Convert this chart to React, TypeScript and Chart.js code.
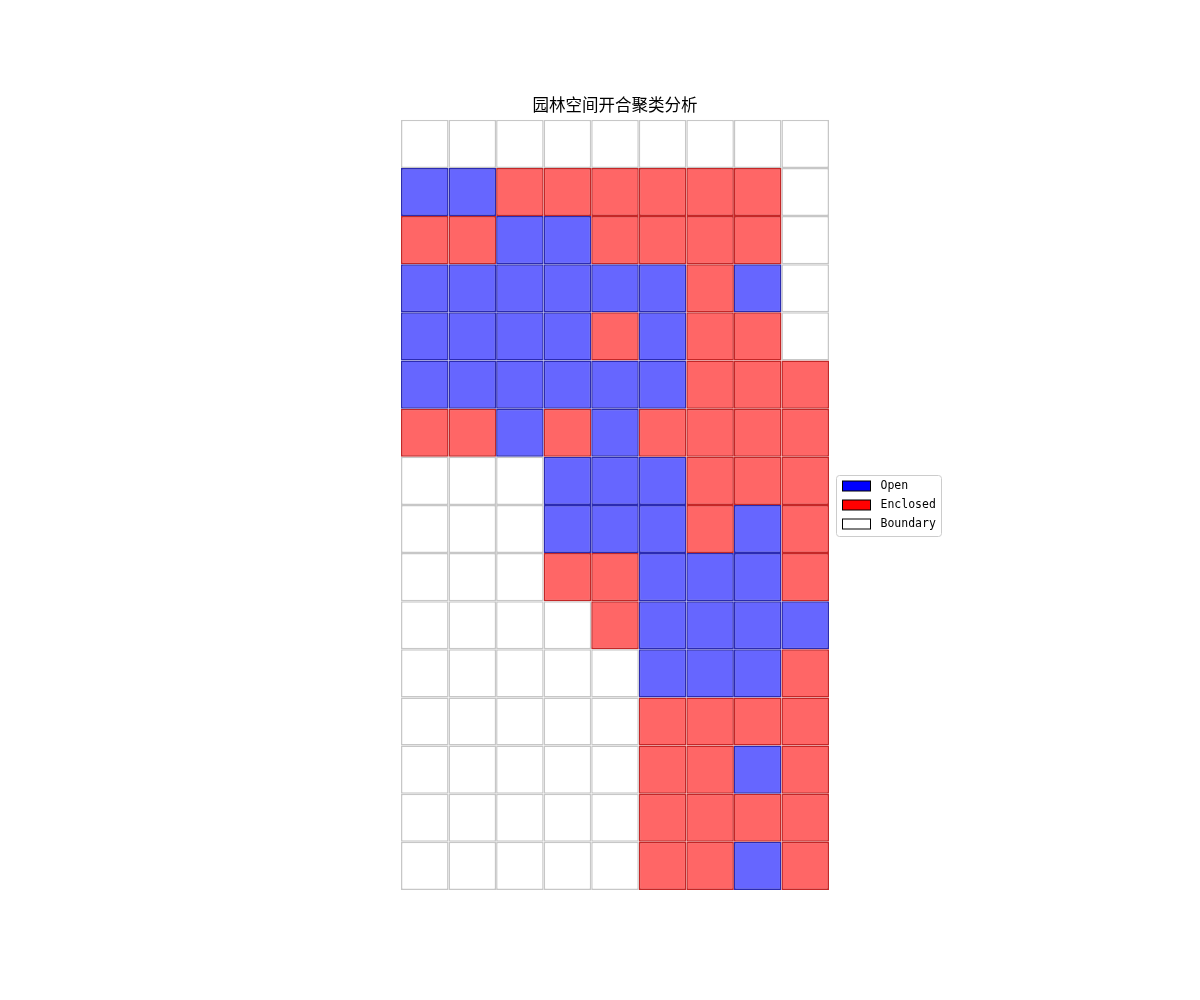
import React, { useEffect, useRef } from "react";
import { Chart, registerables } from "chart.js";

Chart.register(...registerables);

const TITLE = "园林空间开合聚类分析";
const COLUMNS = ["0", "1", "2", "3", "4", "5", "6", "7", "8"];
// O = Open, E = Enclosed, B = Boundary ; rows listed top to bottom
const GRID: string[][] = [
  ["B", "B", "B", "B", "B", "B", "B", "B", "B"],
  ["O", "O", "E", "E", "E", "E", "E", "E", "B"],
  ["E", "E", "O", "O", "E", "E", "E", "E", "B"],
  ["O", "O", "O", "O", "O", "O", "E", "O", "B"],
  ["O", "O", "O", "O", "E", "O", "E", "E", "B"],
  ["O", "O", "O", "O", "O", "O", "E", "E", "E"],
  ["E", "E", "O", "E", "O", "E", "E", "E", "E"],
  ["B", "B", "B", "O", "O", "O", "E", "E", "E"],
  ["B", "B", "B", "O", "O", "O", "E", "O", "E"],
  ["B", "B", "B", "E", "E", "O", "O", "O", "E"],
  ["B", "B", "B", "B", "E", "O", "O", "O", "O"],
  ["B", "B", "B", "B", "B", "O", "O", "O", "E"],
  ["B", "B", "B", "B", "B", "E", "E", "E", "E"],
  ["B", "B", "B", "B", "B", "E", "E", "O", "E"],
  ["B", "B", "B", "B", "B", "E", "E", "E", "E"],
  ["B", "B", "B", "B", "B", "E", "E", "O", "E"],
];
const LEGEND_LABELS = ["Open", "Enclosed", "Boundary"];
const LEGEND_CODES = ["O", "E", "B"];

const FILL: Record<string, string> = {
  O: "rgba(0,0,255,0.6)",
  E: "rgba(255,0,0,0.6)",
  B: "rgba(255,255,255,1)",
};
const EDGE: Record<string, string> = {
  O: "rgba(20,20,170,0.9)",
  E: "rgba(190,15,15,0.9)",
  B: "rgba(0,0,0,0.22)",
};
const SWATCH: Record<string, string> = { O: "#0000ff", E: "#ff0000", B: "#ffffff" };

const legendPlugin = {
  id: "customLegend",
  afterDraw(chart: any) {
    const ctx = chart.ctx as CanvasRenderingContext2D;
    const area = chart.chartArea;
    const x0 = area.right + 7.5;
    const yMid = (area.top + area.bottom) / 2;
    const w = 105;
    const h = 61;
    const y0 = Math.round(yMid - h / 2) + 1.5;
    ctx.save();
    ctx.beginPath();
    const r = 3;
    ctx.moveTo(x0 + r, y0);
    ctx.lineTo(x0 + w - r, y0);
    ctx.quadraticCurveTo(x0 + w, y0, x0 + w, y0 + r);
    ctx.lineTo(x0 + w, y0 + h - r);
    ctx.quadraticCurveTo(x0 + w, y0 + h, x0 + w - r, y0 + h);
    ctx.lineTo(x0 + r, y0 + h);
    ctx.quadraticCurveTo(x0, y0 + h, x0, y0 + h - r);
    ctx.lineTo(x0, y0 + r);
    ctx.quadraticCurveTo(x0, y0, x0 + r, y0);
    ctx.closePath();
    ctx.fillStyle = "rgba(255,255,255,0.8)";
    ctx.fill();
    ctx.strokeStyle = "#cccccc";
    ctx.lineWidth = 1;
    ctx.stroke();
    ctx.font = "11.5px 'DejaVu Sans Mono', monospace";
    ctx.textBaseline = "middle";
    LEGEND_LABELS.forEach((label, i) => {
      const cy = y0 + 10.5 + i * 19;
      ctx.fillStyle = SWATCH[LEGEND_CODES[i]];
      ctx.fillRect(x0 + 6, cy - 5, 28, 10);
      ctx.strokeStyle = "#000000";
      ctx.strokeRect(x0 + 6, cy - 5, 28, 10);
      ctx.fillStyle = "#000000";
      ctx.fillText(label, x0 + 44, cy);
    });
    ctx.restore();
  },
};

export default function App() {
  const ref = useRef<HTMLCanvasElement>(null);
  useEffect(() => {
    if (!ref.current) return;
    const datasets = GRID.map((row, ri) => ({
      label: "row" + ri,
      data: row.map(() => 1),
      backgroundColor: row.map((c) => FILL[c]),
      borderColor: row.map((c) => EDGE[c]),
      borderWidth: 1.5,
      borderSkipped: false as any,
      inflateAmount: 0,
      barPercentage: 1,
      categoryPercentage: 1,
      stack: "s",
    }));
    const chart = new Chart(ref.current, {
      type: "bar",
      data: { labels: COLUMNS, datasets },
      options: {
        animation: false,
        responsive: false,
        layout: { padding: { left: 401, right: 371, top: 95, bottom: 110 } },
        plugins: {
          legend: { display: false },
          tooltip: { enabled: false },
          title: {
            display: true,
            text: TITLE,
            color: "#000000",
            font: { family: "'Noto Sans CJK SC', sans-serif", size: 16.5, weight: "normal", lineHeight: 1.2 },
            padding: { top: 0, bottom: 5 },
          },
        },
        scales: {
          x: { display: false, stacked: true, offset: true },
          y: { display: false, stacked: true, min: 0, max: GRID.length, reverse: true },
        },
      },
      plugins: [legendPlugin],
    });
    return () => chart.destroy();
  }, []);
  return (
    <div style={{ position: "absolute", left: 0, top: 0, width: 1200, height: 1000, background: "#fff" }}>
      <canvas ref={ref} width={1200} height={1000} />
    </div>
  );
}
